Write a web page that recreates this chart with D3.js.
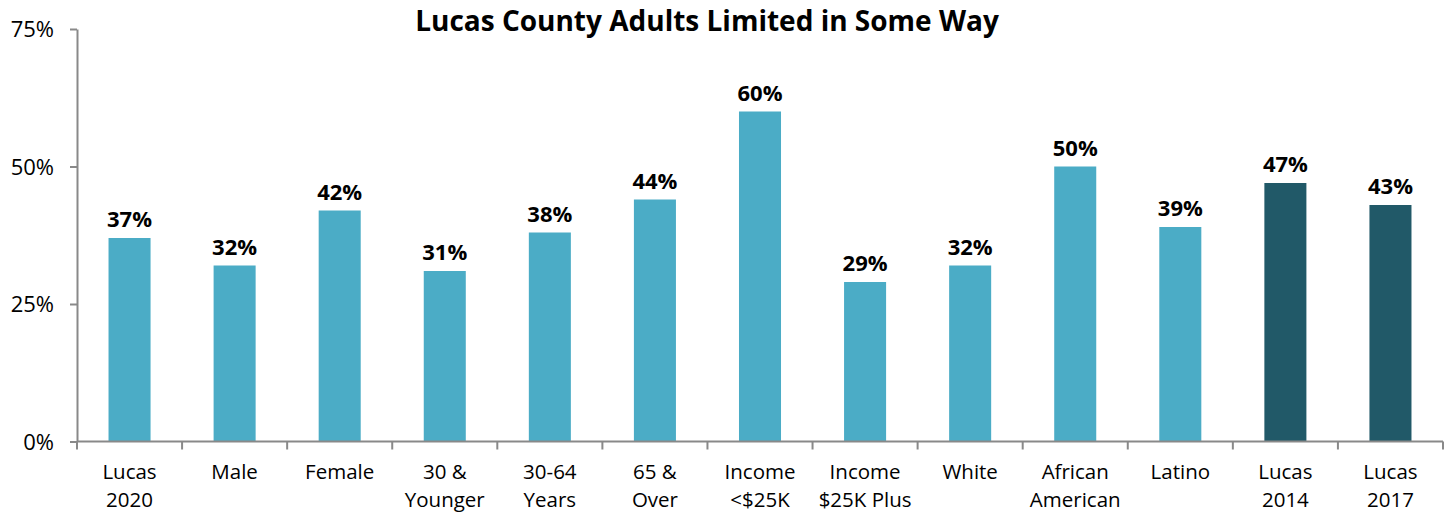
<!DOCTYPE html>
<html><head><meta charset="utf-8">
<script src="https://cdn.jsdelivr.net/npm/d3@7"></script>
<style>body{margin:0;background:#fff}svg{display:block}</style>
</head><body>
<script>
const categories = [["Lucas","2020"],["Male"],["Female"],["30 &","Younger"],["30-64","Years"],["65 &","Over"],["Income","<$25K"],["Income","$25K Plus"],["White"],["African","American"],["Latino"],["Lucas","2014"],["Lucas","2017"]];
const values = [37,32,42,31,38,44,60,29,32,50,39,47,43];
const highlight = [false,false,false,false,false,false,false,false,false,false,false,true,true];
const yTicks = [0,25,50,75];
const title = "Lucas County Adults Limited in Some Way";

const W=1452,H=514;
const m={left:77,right:9,top:29,bottom:72.5};
const svg=d3.select("body").append("svg").attr("width",W).attr("height",H);
const font="'Open Sans', 'Noto Sans', sans-serif";
const x=d3.scaleBand().domain(d3.range(categories.length)).range([m.left,W-m.right]).paddingInner(0.6).paddingOuter(0.3);
const xb=d3.scaleBand().domain(d3.range(categories.length)).range([m.left,W-m.right]);
const y=d3.scaleLinear().domain([0,75]).range([H-m.bottom,m.top]);
const axisCol="#898989";

svg.append("text").attr("x",707).attr("y",31).attr("text-anchor","middle")
 .attr("font-family",font).attr("font-weight","bold").attr("font-size",28).attr("fill","#000").text(title);

// bars
svg.selectAll("rect.bar").data(values).join("rect").attr("class","bar")
 .attr("x",(d,i)=>x(i)).attr("width",x.bandwidth())
 .attr("y",d=>y(d)).attr("height",d=>y(0)-y(d))
 .attr("fill",(d,i)=>highlight[i]?"#215968":"#4BACC6");

svg.selectAll("text.val").data(values).join("text").attr("class","val")
 .attr("x",(d,i)=>x(i)+x.bandwidth()/2).attr("y",d=>y(d)-11)
 .attr("text-anchor","middle").attr("font-family",font).attr("font-weight","bold").attr("font-size",22)
 .text(d=>d+"%");

// y axis
const ya=svg.append("g").attr("transform",`translate(${m.left},0)`)
 .call(d3.axisLeft(y).tickValues(yTicks).tickFormat(d=>d+"%").tickSize(7).tickSizeOuter(0));
ya.select(".domain").attr("stroke",axisCol).attr("stroke-width",2);
ya.selectAll(".tick line").attr("stroke",axisCol).attr("stroke-width",2);
ya.selectAll(".tick text").attr("font-family",font).attr("font-size",22).attr("fill","#000").attr("x",-23).attr("dy","0.35em");

// x axis
const xa=svg.append("g").attr("transform",`translate(0,${y(0)})`);
xa.append("line").attr("x1",m.left).attr("x2",W-m.right).attr("stroke",axisCol).attr("stroke-width",2);
const bounds=d3.range(categories.length+1).map(i=>i<categories.length?xb(i):xb(categories.length-1)+xb.bandwidth());
xa.selectAll("line.t").data(bounds).join("line").attr("class","t")
 .attr("x1",d=>d).attr("x2",d=>d).attr("y1",0).attr("y2",8).attr("stroke",axisCol).attr("stroke-width",2);
const lines=categories.flatMap((c,i)=>c.map((t,j)=>({t,i,j})));
xa.selectAll("text.cat").data(lines).join("text").attr("class","cat")
 .attr("text-anchor","middle").attr("font-family",font).attr("font-size",20.5).attr("fill","#000")
 .attr("x",d=>xb(d.i)+xb.bandwidth()/2).attr("y",d=>37.5+d.j*28).text(d=>d.t);
</script>
</body></html>
